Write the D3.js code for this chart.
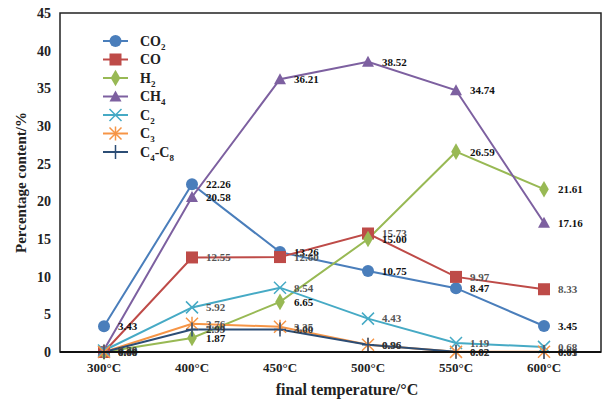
<!DOCTYPE html>
<html>
<head>
<meta charset="utf-8">
<script src="https://cdn.jsdelivr.net/npm/d3@7"></script>
<style>
  body { margin: 0; background: #fff; }
  svg text { font-family: "Liberation Serif", "Times New Roman", serif; font-weight: bold; }
</style>
</head>
<body>
<svg id="chart" width="603" height="401"></svg>
<script>
// categories and series
const temps = ["300°C", "400°C", "450°C", "500°C", "550°C", "600°C"];
const co2 = [3.43, 22.26, 13.26, 10.75, 8.47, 3.45];
const co = [0.00, 12.55, 12.60, 15.73, 9.97, 8.33];
const h2 = [0.00, 1.87, 6.65, 15.00, 26.59, 21.61];
const ch4 = [0.30, 20.58, 36.21, 38.52, 34.74, 17.16];
const c2 = [0.20, 5.92, 8.54, 4.43, 1.19, 0.68];
const c3 = [0.00, 3.76, 3.35, 0.96, 0.02, 0.03];
const c4c8 = [0.00, 2.99, 3.00, 0.96, 0.02, 0.01];
const yTicks = [0, 5, 10, 15, 20, 25, 30, 35, 40, 45];

const series = [
    { name: "CO", sub: "2", suffix: false, values: co2, color: "#4a7ebb", marker: "circle", labelColor: "#111" },
    { name: "CO", sub: "", suffix: false, values: co, color: "#be4b48", marker: "square", labelColor: "#555" },
    { name: "H", sub: "2", suffix: false, values: h2, color: "#98b954", marker: "diamond", labelColor: "#111" },
    { name: "CH", sub: "4", suffix: false, values: ch4, color: "#7d60a0", marker: "triangle", labelColor: "#111" },
    { name: "C", sub: "2", suffix: false, values: c2, color: "#46aac5", marker: "cross", labelColor: "#555" },
    { name: "C", sub: "3", suffix: false, values: c3, color: "#f69546", marker: "asterisk", labelColor: "#555" },
    { name: "C", sub: "4", suffix: true, values: c4c8, color: "#2c4d75", marker: "plus", labelColor: "#333" }
];

const svg = d3.select("#chart");
const plotLeft = 60, plotRight = 601, plotTop = 13, plotBottom = 352;

const x = d3.scaleBand().domain(temps).range([plotLeft, 588]);
const y = d3.scaleLinear().domain([0, 45]).range([plotBottom, plotTop]);
const cx = d => x(d) + x.bandwidth() / 2;

// marker drawing
function drawMarker(g, type, color) {
    if (type === "circle") {
        g.append("circle").attr("r", 6).attr("fill", color);
    } else if (type === "square") {
        g.append("rect").attr("x", -6).attr("y", -6).attr("width", 12).attr("height", 12).attr("fill", color);
    } else if (type === "diamond") {
        g.append("path").attr("d", d3.symbol(d3.symbolDiamond, 80)()).attr("fill", color);
    } else if (type === "triangle") {
        g.append("path").attr("d", "M0,-6L6,5L-6,5Z").attr("fill", color);
    } else if (type === "cross") {
        g.append("path").attr("d", "M-6,-6L6,6M-6,6L6,-6").attr("stroke", color).attr("stroke-width", 1.5);
    } else if (type === "asterisk") {
        g.append("path").attr("d", "M-6,-6L6,6M-6,6L6,-6M0,-7L0,7").attr("stroke", color).attr("stroke-width", 1.5);
    } else if (type === "plus") {
        g.append("path").attr("d", "M-6,0L6,0M0,-7L0,7").attr("stroke", color).attr("stroke-width", 1.5);
    }
}

// y axis tick labels
svg.append("g")
    .selectAll("text")
    .data(yTicks)
    .join("text")
    .attr("x", 51)
    .attr("y", d => y(d))
    .attr("dy", "0.35em")
    .attr("text-anchor", "end")
    .attr("font-size", "14px")
    .attr("fill", "#222")
    .text(d => d);

// x axis tick labels
svg.append("g")
    .selectAll("text")
    .data(temps)
    .join("text")
    .attr("x", d => cx(d))
    .attr("y", 372)
    .attr("text-anchor", "middle")
    .attr("font-size", "13px")
    .attr("fill", "#222")
    .text(d => d);

// lines
const line = d3.line().x((d, i) => cx(temps[i])).y(d => y(d));
series.forEach(s => {
    svg.append("path")
        .datum(s.values)
        .attr("fill", "none")
        .attr("stroke", s.color)
        .attr("stroke-width", 2)
        .attr("d", line);
});

// markers
series.forEach(s => {
    s.values.forEach((v, i) => {
        const g = svg.append("g").attr("transform", `translate(${cx(temps[i])},${y(v)})`);
        drawMarker(g, s.marker, s.color);
    });
});

// data labels (they overlap near zero, as in the original)
series.forEach(s => {
    svg.append("g")
        .selectAll("text")
        .data(s.values)
        .join("text")
        .attr("x", (d, i) => cx(temps[i]) + 14)
        .attr("y", d => y(d))
        .attr("dy", "0.35em")
        .attr("font-size", "11px")
        .attr("fill", s.labelColor)
        .text(d => d.toFixed(2));
});

// frame
svg.append("rect")
    .attr("x", plotLeft).attr("y", plotTop)
    .attr("width", plotRight - plotLeft).attr("height", plotBottom - plotTop)
    .attr("fill", "none").attr("stroke", "#222").attr("stroke-width", 1.5);
svg.append("line")
    .attr("x1", plotLeft).attr("x2", plotRight).attr("y1", plotBottom).attr("y2", plotBottom)
    .attr("stroke", "#111").attr("stroke-width", 2);

// legend
const legend = svg.append("g");
series.forEach((s, i) => {
    const ly = 41 + i * 18.5;
    const g = legend.append("g").attr("transform", `translate(0,${ly})`);
    g.append("line").attr("x1", 103).attr("x2", 128).attr("stroke", s.color).attr("stroke-width", 2);
    drawMarker(g.append("g").attr("transform", "translate(115.5,0)"), s.marker, s.color);
    const t = g.append("text").attr("x", 140).attr("dy", "0.35em").attr("font-size", "14px").attr("fill", "#222");
    t.append("tspan").text(s.name);
    if (s.sub) t.append("tspan").attr("font-size", "9px").attr("dy", "4").text(s.sub);
    if (s.suffix) t.append("tspan").attr("dy", "-4").text("-C");
    if (s.suffix) t.append("tspan").attr("font-size", "9px").attr("dy", "4").text("8");
});

// axis titles
svg.append("text")
    .attr("transform", `translate(26,${(plotTop + plotBottom) / 2}) rotate(-90)`)
    .attr("text-anchor", "middle")
    .attr("font-size", "15px")
    .attr("fill", "#222")
    .text("Percentage content/%");

svg.append("text")
    .attr("x", 347)
    .attr("y", 395)
    .attr("text-anchor", "middle")
    .attr("font-size", "16px")
    .attr("fill", "#222")
    .text("final  temperature/°C");
</script>
</body>
</html>
